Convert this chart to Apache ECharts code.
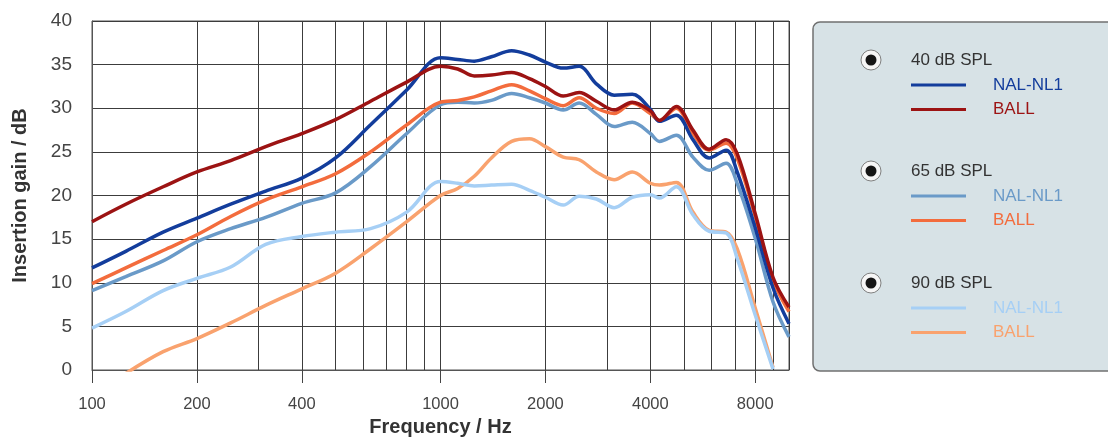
<!DOCTYPE html>
<html>
<head>
<meta charset="utf-8">
<title>Insertion gain</title>
<script src="https://cdn.jsdelivr.net/npm/echarts@6/dist/echarts.min.js"></script>
<style>
  html, body { margin: 0; padding: 0; background: #fff; }
  #chart { width: 1108px; height: 444px; }
</style>
</head>
<body>
<div id="chart"></div>
<script>
/* ---------- data ---------- */
var freqHz = [100, 125, 160, 200, 250, 315, 400, 500, 630, 800, 1000, 1120, 1250, 1400, 1600, 1800,
              2000, 2250, 2500, 2800, 3150, 3550, 4000, 4250, 4750, 5300, 5900, 6600, 7100, 8000, 9000, 10000];

var nal40  = [11.7, 13.6, 15.8, 17.4, 19.0, 20.5, 22.0, 24.3, 28.1, 32.1, 35.8, 35.6, 35.4, 35.9, 36.6, 36.1,
              35.3, 34.6, 34.8, 32.8, 31.5, 31.6, 29.9, 28.5, 29.2, 26.4, 24.3, 25.2, 22.7, 16.3, 9.4, 5.3];
var ball40 = [17.0, 19.0, 21.0, 22.7, 24.0, 25.6, 27.1, 28.7, 30.8, 33.0, 34.8, 34.5, 33.7, 33.8, 34.1, 33.4,
              32.5, 31.4, 31.8, 30.8, 29.8, 30.7, 29.7, 28.6, 30.2, 27.5, 25.3, 26.4, 24.8, 17.9, 10.6, 7.2];
var nal65  = [9.1, 10.7, 12.5, 14.7, 16.2, 17.5, 19.1, 20.3, 23.3, 27.1, 30.4, 30.7, 30.6, 30.9, 31.7, 31.2,
              30.6, 29.8, 30.6, 29.3, 27.9, 28.4, 27.1, 26.2, 26.9, 24.4, 22.9, 23.7, 21.4, 15.1, 7.8, 3.8];
var ball65 = [9.9, 11.7, 13.7, 15.5, 17.6, 19.5, 21.0, 22.5, 25.0, 28.1, 30.7, 30.9, 31.3, 32.0, 32.7, 32.0,
              31.1, 30.3, 31.2, 30.0, 29.4, 30.6, 29.4, 28.6, 30.0, 27.1, 25.2, 26.0, 24.3, 17.6, 10.3, 6.7];
var nal90  = [4.8, 6.7, 9.1, 10.5, 11.8, 14.4, 15.3, 15.8, 16.2, 18.1, 21.6, 21.4, 21.1, 21.2, 21.3, 20.6,
              19.8, 18.9, 19.9, 19.6, 18.6, 19.8, 20.1, 19.7, 21.0, 17.8, 15.9, 15.7, 12.8, 6.3, 0.1, null];
var ball90 = [null, -0.4, 2.1, 3.6, 5.4, 7.4, 9.3, 11.1, 13.9, 17.0, 20.0, 20.8, 22.2, 24.3, 26.2, 26.5,
              25.6, 24.4, 24.1, 22.7, 21.8, 22.7, 21.4, 21.2, 21.5, 18.1, 16.0, 15.8, 13.9, 7.1, 0.3, null];

var gridFreqs  = [100, 200, 300, 400, 500, 600, 700, 800, 900, 1000,
                  2000, 3000, 4000, 5000, 6000, 7000, 8000, 9000, 10000];
var labelFreqs = [100, 200, 400, 1000, 2000, 4000, 8000];

var levels = ['40 dB SPL', '65 dB SPL', '90 dB SPL'];
var rules  = ['NAL-NL1', 'BALL'];

/* ---------- style ---------- */
var FONT = '"Liberation Sans", Arial, sans-serif';
var colors = [
  ['#133d9c', '#9c1313'],
  ['#6a9ac8', '#f36c3d'],
  ['#a6cff5', '#f9a26e']
];
var values = [[nal40, ball40], [nal65, ball65], [nal90, ball90]];

function pairs(arr) {
  return freqHz.map(function (f, i) { return [f, arr[i]]; });
}

/* ---------- series (light ones underneath) ---------- */
var series = [];
[2, 1, 0].forEach(function (li) {
  var order = li === 2 ? [1, 0] : [0, 1];
  order.forEach(function (ri) {
    series.push({
      name: levels[li] + ' ' + rules[ri],
      type: 'line',
      xAxisIndex: 0,
      data: pairs(values[li][ri]),
      smooth: 0.35,
      showSymbol: false,
      connectNulls: false,
      clip: true,
      lineStyle: { color: colors[li][ri], width: 3.5 },
      itemStyle: { color: colors[li][ri] },
      z: 3
    });
  });
});

/* ---------- legend panel ---------- */
var graphics = [{
  type: 'rect',
  shape: { x: 813, y: 22, width: 330, height: 349, r: 7 },
  style: { fill: '#d7e2e6', stroke: '#707070', lineWidth: 1.5 },
  z: 1
}];
var groupY = [60, 171, 283];
levels.forEach(function (lv, li) {
  var y0 = groupY[li];
  graphics.push({ type: 'circle', shape: { cx: 871, cy: y0, r: 10 },
    style: { fill: '#f6f6f6', stroke: '#808080', lineWidth: 1 }, z: 2 });
  graphics.push({ type: 'circle', shape: { cx: 871, cy: y0, r: 5.5 },
    style: { fill: '#151515' }, z: 3 });
  graphics.push({ type: 'text', x: 911, y: y0,
    style: { text: lv, font: '17px ' + FONT, fill: '#333', verticalAlign: 'middle' }, z: 3 });
  rules.forEach(function (rule, ri) {
    var yy = y0 + 25 + ri * 24.5;
    graphics.push({ type: 'line', shape: { x1: 911, y1: yy, x2: 966, y2: yy },
      style: { stroke: colors[li][ri], lineWidth: 3 }, z: 3 });
    graphics.push({ type: 'text', x: 993, y: yy,
      style: { text: rule, font: '17px ' + FONT, fill: colors[li][ri], verticalAlign: 'middle' }, z: 3 });
  });
});

/* ---------- chart ---------- */
var chart = echarts.init(document.getElementById('chart'), null, { renderer: 'canvas' });

chart.setOption({
  backgroundColor: '#fff',
  animation: false,
  grid: { left: 92, right: 319, top: 21, bottom: 74, show: true, borderColor: '#555', borderWidth: 1 },
  xAxis: [{
    type: 'log',
    logBase: 10,
    min: 100,
    max: 10000,
    position: 'bottom',
    name: 'Frequency / Hz',
    nameLocation: 'middle',
    nameGap: 42,
    nameTextStyle: { fontFamily: FONT, fontSize: 20, fontWeight: 'bold', color: '#333' },
    axisLine: { show: true, lineStyle: { color: '#555', width: 1 } },
    axisTick: { show: true, customValues: labelFreqs, length: 13, lineStyle: { color: '#444', width: 1 } },
    axisLabel: {
      customValues: labelFreqs, margin: 26, fontFamily: FONT, fontSize: 16.5, color: '#444',
      formatter: function (v) { return String(Math.round(v)); }
    },
    splitLine: { show: false }
  }, {
    type: 'log',
    logBase: 10,
    min: 100,
    max: 10000,
    axisLine: { show: false },
    axisTick: { show: false, customValues: gridFreqs },
    axisLabel: { show: false },
    splitLine: { show: true, lineStyle: { color: '#3c3c3c', width: 1 } }
  }],
  yAxis: {
    type: 'value',
    min: 0,
    max: 40,
    interval: 5,
    name: 'Insertion gain / dB',
    nameLocation: 'middle',
    nameGap: 62,
    nameTextStyle: { fontFamily: FONT, fontSize: 20, fontWeight: 'bold', color: '#333' },
    axisLine: { show: true, lineStyle: { color: '#555' } },
    axisTick: { show: false },
    axisLabel: { margin: 20, fontFamily: FONT, fontSize: 19, color: '#444' },
    splitLine: { show: true, lineStyle: { color: '#3c3c3c', width: 1 } }
  },
  series: series,
  graphic: graphics
});
</script>
</body>
</html>
